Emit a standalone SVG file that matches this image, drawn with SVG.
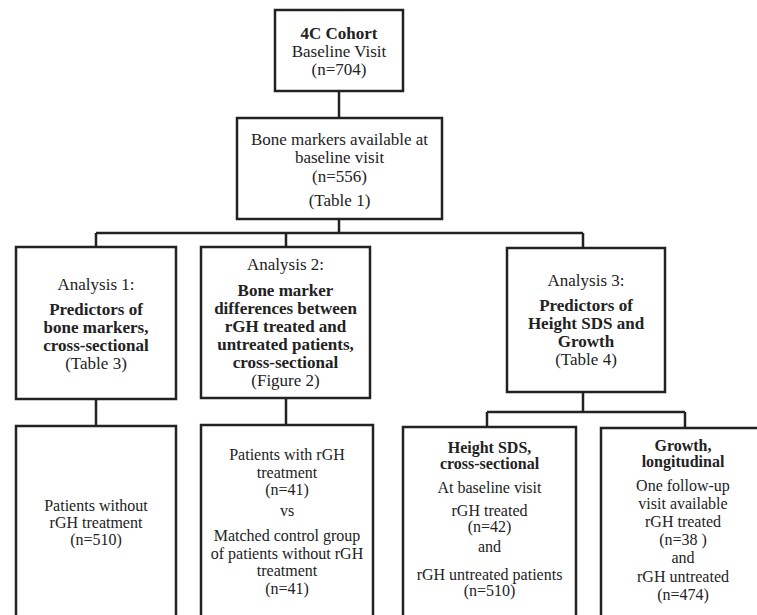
<svg xmlns="http://www.w3.org/2000/svg" width="757" height="615" viewBox="0 0 757 615" font-family="'Liberation Serif', 'DejaVu Serif', serif">
<style>
.box{fill:#fff;stroke:#222;stroke-width:2.5}
.ln{fill:none;stroke:#222;stroke-width:2.5}
text{font-family:'Liberation Serif','DejaVu Serif',serif;fill:#222;text-anchor:middle}
.t17{font-size:17px}
.t16{font-size:16px}
.b{font-weight:bold}
</style>
<rect width="757" height="615" fill="#fff"/>
<g id="connectors">
<path class="ln" d="M339,91V118"/>
<path class="ln" d="M339,219V233M96,233H583M96,233V247M286,233V247M583,233V248"/>
<path class="ln" d="M96,399V426M286,398V425"/>
<path class="ln" d="M583,392V412M487,412H685M487,412V427M685,412V428"/>
</g>
<g id="cohort">
<rect class="box" x="275" y="10" width="128" height="81"/>
<text class="t17 b" x="339" y="39">4C Cohort</text>
<text class="t17" x="339" y="57">Baseline Visit</text>
<text class="t17" x="339" y="75">(n=704)</text>
</g>
<g id="bonemarkers">
<rect class="box" x="237" y="118" width="205" height="101"/>
<text class="t17" x="339.5" y="145">Bone markers available at</text>
<text class="t17" x="339.5" y="163">baseline visit</text>
<text class="t17" x="339.5" y="182">(n=556)</text>
<text class="t17" x="339.5" y="206">(Table 1)</text>
</g>
<g id="analysis1">
<rect class="box" x="16" y="247" width="160" height="152"/>
<text class="t17" x="96" y="290">Analysis 1:</text>
<text class="t17 b" x="96" y="315">Predictors of</text>
<text class="t17 b" x="96" y="333">bone markers,</text>
<text class="t17 b" x="96" y="351">cross-sectional</text>
<text class="t17" x="96" y="369">(Table 3)</text>
</g>
<g id="analysis2">
<rect class="box" x="201" y="247" width="169" height="151"/>
<text class="t17" x="285.5" y="270">Analysis 2:</text>
<text class="t17 b" x="285.5" y="296">Bone marker</text>
<text class="t17 b" x="285.5" y="314">differences between</text>
<text class="t17 b" x="285.5" y="332">rGH treated and</text>
<text class="t17 b" x="285.5" y="350">untreated patients,</text>
<text class="t17 b" x="285.5" y="368">cross-sectional</text>
<text class="t17" x="285.5" y="386">(Figure 2)</text>
</g>
<g id="analysis3">
<rect class="box" x="507" y="248" width="158" height="144"/>
<text class="t17" x="586" y="286">Analysis 3:</text>
<text class="t17 b" x="586" y="311">Predictors of</text>
<text class="t17 b" x="586" y="329">Height SDS and</text>
<text class="t17 b" x="586" y="347">Growth</text>
<text class="t17" x="586" y="365">(Table 4)</text>
</g>
<g id="untreated">
<rect class="box" x="16" y="426" width="160" height="210"/>
<text class="t16" x="96" y="511">Patients without</text>
<text class="t16" x="96" y="528">rGH treatment</text>
<text class="t16" x="96" y="545">(n=510)</text>
</g>
<g id="matched">
<rect class="box" x="201" y="425" width="172" height="211"/>
<text class="t16" x="287" y="460">Patients with rGH</text>
<text class="t16" x="287" y="478">treatment</text>
<text class="t16" x="287" y="495">(n=41)</text>
<text class="t16" x="287" y="516">vs</text>
<text class="t16" x="287" y="541">Matched control group</text>
<text class="t16" x="287" y="559">of patients without rGH</text>
<text class="t16" x="287" y="576">treatment</text>
<text class="t16" x="287" y="594">(n=41)</text>
</g>
<g id="heightsds">
<rect class="box" x="403" y="427" width="173" height="209"/>
<text class="t16 b" x="489.5" y="453">Height SDS,</text>
<text class="t16 b" x="489.5" y="469">cross-sectional</text>
<text class="t16" x="489.5" y="493">At baseline visit</text>
<text class="t16" x="489.5" y="516">rGH treated</text>
<text class="t16" x="489.5" y="532">(n=42)</text>
<text class="t16" x="489.5" y="552">and</text>
<text class="t16" x="489.5" y="580">rGH untreated patients</text>
<text class="t16" x="489.5" y="596">(n=510)</text>
</g>
<g id="growth">
<rect class="box" x="601" y="428" width="170" height="208"/>
<text class="t16 b" x="683" y="451">Growth,</text>
<text class="t16 b" x="683" y="467">longitudinal</text>
<text class="t16" x="683" y="491">One follow-up</text>
<text class="t16" x="683" y="509">visit available</text>
<text class="t16" x="683" y="527">rGH treated</text>
<text class="t16" x="683" y="545">(n=38 )</text>
<text class="t16" x="683" y="563">and</text>
<text class="t16" x="683" y="582">rGH untreated</text>
<text class="t16" x="683" y="600">(n=474)</text>
</g>
</svg>
